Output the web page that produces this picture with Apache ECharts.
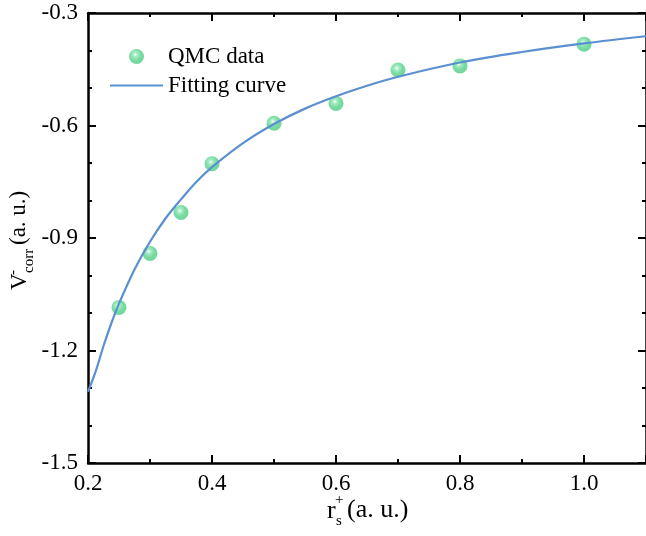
<!DOCTYPE html>
<html>
<head>
<meta charset="utf-8">
<script src="https://cdn.jsdelivr.net/npm/echarts@6/dist/echarts.min.js"></script>
<style>
html,body{margin:0;padding:0;background:#fff;}
#chart{width:646px;height:536px;}
</style>
</head>
<body>
<div id="chart"></div>
<script>
// QMC data points
var qmcX = [0.25, 0.30, 0.35, 0.40, 0.50, 0.60, 0.70, 0.80, 1.00];
var qmcY = [-1.085, -0.941, -0.832, -0.702, -0.594, -0.541, -0.452, -0.441, -0.383];
// Fitting curve
var fitX = [0.20, 0.2125, 0.225, 0.2375, 0.25, 0.275, 0.30, 0.325, 0.35, 0.375, 0.40, 0.45, 0.50, 0.55, 0.60, 0.65, 0.70, 0.80, 0.90, 1.00, 1.10];
var fitY = [-1.31, -1.255, -1.188, -1.128, -1.075, -0.984, -0.910, -0.848, -0.797, -0.750, -0.711, -0.647, -0.596, -0.555, -0.522, -0.494, -0.470, -0.432, -0.404, -0.381, -0.362];
// tick labels
var xTicks = ['0.2', '0.4', '0.6', '0.8', '1.0'];
var yTicks = ['-1.5', '-1.2', '-0.9', '-0.6', '-0.3'];
var seriesNames = ['QMC data', 'Fitting curve'];

var FONT = 'Liberation Serif';
var FS = 23;
var LINE_COLOR = '#5b90d0';

var qmcData = qmcX.map(function (x, i) { return [x, qmcY[i]]; });
var fitData = fitX.map(function (x, i) { return [x, fitY[i]]; });

var sphere = new echarts.graphic.RadialGradient(0.42, 0.38, 0.62, [
  { offset: 0, color: '#ffffff' },
  { offset: 0.22, color: '#a8edc4' },
  { offset: 0.6, color: '#7adba2' },
  { offset: 1, color: '#70d69b' }
]);

var axisLine = { show: true, lineStyle: { color: '#000', width: 2.5 } };
var tickStyle = { color: '#000', width: 2 };
var legendText = { fontFamily: FONT, fontSize: FS, color: '#000' };

var chart = echarts.init(document.getElementById('chart'), null, { renderer: 'canvas' });
chart.setOption({
  animation: false,
  backgroundColor: '#fff',
  grid: { left: 88, top: 13, width: 561, height: 450, containLabel: false },
  legend: [{
    show: true, left: 129, top: 45, padding: 0, orient: 'vertical',
    itemWidth: 53, itemHeight: 15,
    textStyle: legendText,
    data: [{ name: seriesNames[0] }]
  }, {
    show: true, left: 110, top: 74, padding: 0, orient: 'vertical',
    itemWidth: 53, itemHeight: 2.2, icon: 'rect',
    textStyle: legendText,
    data: [{ name: seriesNames[1], itemStyle: { color: LINE_COLOR } }]
  }],
  xAxis: [{
    type: 'value', position: 'bottom', min: 0.2, max: 1.1, interval: 0.2,
    axisLine: axisLine,
    axisTick: { show: true, inside: true, length: 8, lineStyle: tickStyle },
    minorTick: { show: true, splitNumber: 2, length: 4, lineStyle: tickStyle },
    splitLine: { show: false },
    axisLabel: {
      show: true, margin: 9, showMaxLabel: false,
      fontFamily: FONT, fontSize: FS, color: '#000',
      formatter: function (v) {
        var s = v.toFixed(1);
        return xTicks.indexOf(s) >= 0 ? s : '';
      }
    }
  }, {
    type: 'value', position: 'top', min: 0.2, max: 1.1, interval: 0.2,
    axisLine: axisLine,
    axisTick: { show: true, inside: true, length: 8, lineStyle: tickStyle },
    minorTick: { show: true, splitNumber: 2, length: 4, lineStyle: tickStyle },
    splitLine: { show: false },
    axisLabel: { show: false }
  }],
  yAxis: [{
    type: 'value', position: 'left', min: -1.5, max: -0.3, interval: 0.3,
    axisLine: axisLine,
    axisTick: { show: true, inside: true, length: 8, lineStyle: tickStyle },
    minorTick: { show: true, splitNumber: 3, length: 4, lineStyle: tickStyle },
    splitLine: { show: false },
    axisLabel: {
      show: true, margin: 10,
      fontFamily: FONT, fontSize: FS, color: '#000',
      formatter: function (v) {
        var s = v.toFixed(1);
        return yTicks.indexOf(s) >= 0 ? s : '';
      }
    }
  }, {
    type: 'value', position: 'right', min: -1.5, max: -0.3, interval: 0.3,
    axisLine: axisLine,
    axisTick: { show: true, inside: true, length: 8, lineStyle: tickStyle },
    minorTick: { show: true, splitNumber: 3, length: 4, lineStyle: tickStyle },
    splitLine: { show: false },
    axisLabel: { show: false }
  }],
  series: [{
    name: seriesNames[0],
    type: 'scatter',
    xAxisIndex: 0, yAxisIndex: 0,
    symbol: 'circle',
    symbolSize: 15,
    itemStyle: { color: sphere, opacity: 1 },
    data: qmcData,
    z: 3
  }, {
    name: seriesNames[1],
    type: 'line',
    xAxisIndex: 0, yAxisIndex: 0,
    symbol: 'none',
    smooth: 0.35,
    lineStyle: { color: LINE_COLOR, width: 2.2 },
    itemStyle: { color: LINE_COLOR },
    data: fitData,
    z: 4
  }],
  graphic: [
    {
      type: 'group', left: 0, top: 0, bounding: 'raw',
      children: [
        { type: 'text', x: 327, y: 511, style: { text: 'r', font: '26px ' + FONT, fill: '#000', verticalAlign: 'middle' } },
        { type: 'text', x: 335, y: 500, style: { text: '+', font: '15px ' + FONT, fill: '#000', verticalAlign: 'middle' } },
        { type: 'text', x: 336, y: 521, style: { text: 's', font: '15px ' + FONT, fill: '#000', verticalAlign: 'middle' } },
        { type: 'text', x: 347, y: 510, style: { text: '(a. u.)', font: '26px ' + FONT, fill: '#000', verticalAlign: 'middle' } }
      ]
    },
    {
      type: 'group', x: 27, y: 290, rotation: Math.PI / 2, bounding: 'raw',
      children: [
        { type: 'text', x: 0, y: -7, style: { text: 'V', font: FS + 'px ' + FONT, fill: '#000', verticalAlign: 'middle' } },
        { type: 'text', x: 15, y: -14, style: { text: '-', font: '15px ' + FONT, fill: '#000', verticalAlign: 'middle' } },
        { type: 'text', x: 17, y: 2, style: { text: 'corr', font: '15px ' + FONT, fill: '#000', verticalAlign: 'middle' } },
        { type: 'text', x: 45, y: -8, style: { text: '(a. u.)', font: FS + 'px ' + FONT, fill: '#000', verticalAlign: 'middle' } }
      ]
    }
  ]
});
</script>
</body>
</html>
